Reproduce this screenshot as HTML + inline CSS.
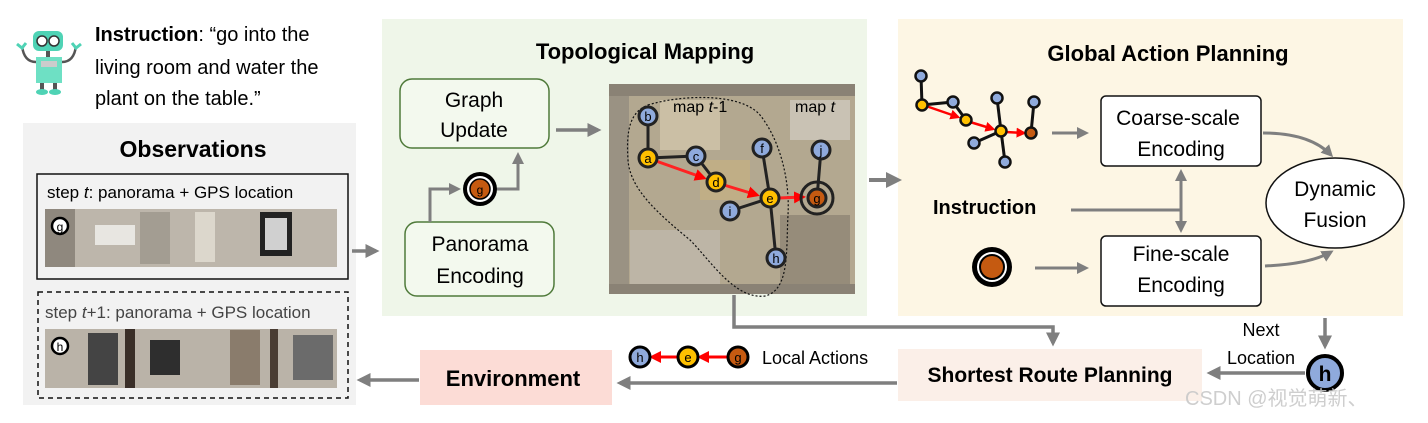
<!DOCTYPE html>
<html><head><meta charset="utf-8"><style>
html,body{margin:0;padding:0;background:#fff}
svg{display:block}
text{font-family:"Liberation Sans","Noto Sans CJK SC",sans-serif}
</style></head><body>
<svg width="1428" height="423" viewBox="0 0 1428 423" xmlns="http://www.w3.org/2000/svg">
<defs>
<marker id="ga" markerWidth="4" markerHeight="4" refX="3" refY="2" orient="auto" markerUnits="strokeWidth"><path d="M0,0 L4,2 L0,4 z" fill="#7f7f7f"/></marker>
<marker id="ra" markerWidth="4" markerHeight="4" refX="3" refY="2" orient="auto" markerUnits="strokeWidth"><path d="M0,0 L4,2 L0,4 z" fill="#f00"/></marker>
</defs>
<!-- panels -->
<rect x="23" y="123" width="333" height="282" fill="#f2f2f2"/>
<rect x="382" y="19" width="485" height="297" fill="#eff6e9"/>
<rect x="898" y="19" width="505" height="297" fill="#fdf6e4"/>
<rect x="898" y="349" width="304" height="52" fill="#fbefe8"/>
<rect x="420" y="350" width="192" height="55" fill="#fcdcd6"/>

<!-- robot -->
<g>
<rect x="33" y="31" width="30" height="20" rx="6" fill="#4fd3b5"/>
<circle cx="42" cy="41" r="5" fill="#fff" stroke="#333" stroke-width="1.5"/><circle cx="54" cy="41" r="5" fill="#fff" stroke="#333" stroke-width="1.5"/>
<rect x="46" y="51" width="4" height="6" fill="#555"/>
<rect x="36" y="57" width="26" height="26" fill="#6ee0c4"/>
<rect x="41" y="61" width="16" height="6" fill="#ccc"/>
<path d="M36,62 Q24,62 22,46 M62,62 Q74,62 76,46" stroke="#555" stroke-width="2.5" fill="none"/>
<path d="M17,44 L22,48 L26,43 M72,43 L76,48 L81,44" stroke="#4fd3b5" stroke-width="3" fill="none"/>
<rect x="40" y="83" width="4" height="7" fill="#555"/><rect x="53" y="83" width="4" height="7" fill="#555"/>
<ellipse cx="42" cy="92" rx="6" ry="3" fill="#4fd3b5"/><ellipse cx="55" cy="92" rx="6" ry="3" fill="#4fd3b5"/>
</g>
<text x="95" y="41" font-size="20"><tspan font-weight="bold">Instruction</tspan>: “go into the</text>
<text x="95" y="74" font-size="20">living room and water the</text>
<text x="95" y="105" font-size="20">plant on the table.”</text>

<!-- observations -->
<text x="193" y="157" font-size="23" font-weight="bold" text-anchor="middle">Observations</text>
<rect x="37" y="174" width="311" height="105" fill="none" stroke="#111" stroke-width="1.5"/>
<text x="47" y="198" font-size="17">step <tspan font-style="italic">t</tspan>: panorama + GPS location</text>
<rect x="45" y="209" width="292" height="58" fill="#bdb6ab"/>
<rect x="45" y="209" width="30" height="58" fill="#8f887e"/><rect x="95" y="225" width="40" height="20" fill="#e8e6e1"/><rect x="140" y="212" width="30" height="52" fill="#a39d92"/><rect x="260" y="212" width="32" height="44" fill="#222"/><rect x="265" y="218" width="22" height="32" fill="#d0d0d0"/><rect x="195" y="212" width="20" height="50" fill="#dcd7cc"/>
<rect x="38" y="292" width="310" height="106" fill="none" stroke="#111" stroke-width="1.5" stroke-dasharray="5,4"/>
<text x="45" y="318" font-size="17" fill="#444">step <tspan font-style="italic">t</tspan>+1: panorama + GPS location</text>
<rect x="45" y="329" width="292" height="59" fill="#bab3a8"/>
<rect x="88" y="333" width="30" height="52" fill="#444"/><rect x="125" y="329" width="10" height="59" fill="#3a2f28"/><rect x="150" y="340" width="30" height="35" fill="#2e2e2e"/><rect x="230" y="330" width="30" height="55" fill="#8a7c6c"/><rect x="270" y="329" width="8" height="59" fill="#4a3d33"/><rect x="293" y="335" width="40" height="45" fill="#6b6b6b"/>
<circle cx="60" cy="226" r="8" fill="#fff" stroke="#000" stroke-width="2.5"/><text x="60" y="231" font-size="12" text-anchor="middle">g</text>
<circle cx="60" cy="346" r="8" fill="#fff" stroke="#000" stroke-width="2.5"/><text x="60" y="351" font-size="12" text-anchor="middle">h</text>

<!-- topological mapping -->
<text x="645" y="59" font-size="22" font-weight="bold" text-anchor="middle">Topological Mapping</text>
<rect x="400" y="79" width="149" height="69" rx="12" fill="#f3f9ee" stroke="#4f7a3a" stroke-width="1.5"/>
<text x="474" y="107" font-size="21" text-anchor="middle">Graph</text>
<text x="474" y="137" font-size="21" text-anchor="middle">Update</text>
<rect x="405" y="222" width="149" height="74" rx="12" fill="#f3f9ee" stroke="#4f7a3a" stroke-width="1.5"/>
<text x="480" y="251" font-size="21" text-anchor="middle">Panorama</text>
<text x="480" y="283" font-size="21" text-anchor="middle">Encoding</text>
<path d="M430,222 V189 H458" stroke="#7f7f7f" stroke-width="3" fill="none" marker-end="url(#ga)"/>
<path d="M497,189 H518 V155" stroke="#7f7f7f" stroke-width="3" fill="none" marker-end="url(#ga)"/>
<circle cx="480" cy="189" r="17" fill="#000"/><circle cx="480" cy="189" r="13" fill="#fff"/><circle cx="480" cy="189" r="10" fill="#c55a11" stroke="#000" stroke-width="1.5"/><text x="480" y="194" font-size="12" text-anchor="middle">g</text>
<line x1="556" y1="130" x2="598" y2="130" stroke="#7f7f7f" stroke-width="3.5" marker-end="url(#ga)"/>
<line x1="352" y1="251" x2="376" y2="251" stroke="#7f7f7f" stroke-width="3.5" marker-end="url(#ga)"/>

<!-- map -->
<rect x="609" y="84" width="246" height="210" fill="#b3a890"/>
<rect x="609" y="84" width="246" height="12" fill="#8a8275"/>
<rect x="609" y="96" width="20" height="198" fill="#9a9283"/>
<rect x="630" y="230" width="90" height="60" fill="#bdb5a6"/>
<rect x="790" y="100" width="60" height="40" fill="#c9c2b4"/>
<rect x="780" y="215" width="70" height="75" fill="#968c7a"/>
<rect x="660" y="100" width="60" height="50" fill="#cbbfa5"/>
<rect x="700" y="160" width="50" height="40" fill="#c0ae86"/>
<rect x="609" y="284" width="246" height="10" fill="#8a8275"/>
<path d="M648,105 C680,95 740,92 760,115 C780,140 790,180 788,215 C786,250 790,290 765,296 C735,300 710,260 690,240 C660,215 630,190 628,160 C626,130 630,112 648,105 Z" fill="none" stroke="#111" stroke-width="1.2" stroke-dasharray="2,2"/>
<text x="673" y="112" font-size="16">map <tspan font-style="italic">t</tspan>-1</text>
<text x="795" y="112" font-size="16">map <tspan font-style="italic">t</tspan></text>
<g stroke="#222" stroke-width="3">
<line x1="648" y1="116" x2="648" y2="158"/><line x1="648" y1="158" x2="696" y2="156"/><line x1="696" y1="156" x2="716" y2="182"/>
<line x1="770" y1="198" x2="762" y2="148"/><line x1="770" y1="198" x2="730" y2="211"/><line x1="770" y1="198" x2="776" y2="258"/>
<line x1="821" y1="150" x2="817" y2="198"/>
</g>
<g stroke="#f22" stroke-width="3" fill="none">
<line x1="656" y1="161" x2="704" y2="178" marker-end="url(#ra)"/>
<line x1="724" y1="185" x2="757" y2="195" marker-end="url(#ra)"/>
<line x1="779" y1="198" x2="803" y2="197" marker-end="url(#ra)"/>
</g>
<g stroke="#222" stroke-width="3" font-size="12">
<circle cx="648" cy="116" r="9" fill="#8faadc"/><circle cx="696" cy="156" r="9" fill="#8faadc"/><circle cx="762" cy="148" r="9" fill="#8faadc"/><circle cx="730" cy="211" r="9" fill="#8faadc"/><circle cx="776" cy="258" r="9" fill="#8faadc"/><circle cx="821" cy="150" r="9" fill="#8faadc"/>
<circle cx="648" cy="158" r="9" fill="#ffc000"/><circle cx="716" cy="182" r="9" fill="#ffc000"/><circle cx="770" cy="198" r="9" fill="#ffc000"/>
<circle cx="817" cy="198" r="16" fill="none"/><circle cx="817" cy="198" r="9" fill="#c55a11"/>
</g>
<g font-size="13" text-anchor="middle">
<text x="648" y="121">b</text><text x="648" y="163">a</text><text x="696" y="161">c</text><text x="716" y="187">d</text><text x="770" y="203">e</text><text x="762" y="153">f</text><text x="730" y="216">i</text><text x="776" y="263">h</text><text x="821" y="155">j</text><text x="817" y="203">g</text>
</g>
<line x1="869" y1="180" x2="898" y2="180" stroke="#7f7f7f" stroke-width="4" marker-end="url(#ga)"/>

<!-- global action planning -->
<text x="1168" y="61" font-size="22" font-weight="bold" text-anchor="middle">Global Action Planning</text>
<g stroke="#111" stroke-width="3">
<line x1="921" y1="76" x2="922" y2="105"/><line x1="922" y1="105" x2="953" y2="102"/><line x1="953" y1="102" x2="966" y2="120"/>
<line x1="1001" y1="131" x2="997" y2="98"/><line x1="1001" y1="131" x2="974" y2="143"/><line x1="1001" y1="131" x2="1005" y2="162"/><line x1="1031" y1="133" x2="1034" y2="102"/>
</g>
<g stroke="#f00" stroke-width="2.5">
<line x1="926" y1="106" x2="958" y2="117" marker-end="url(#ra)"/><line x1="970" y1="122" x2="993" y2="129" marker-end="url(#ra)"/><line x1="1006" y1="132" x2="1024" y2="133" marker-end="url(#ra)"/>
</g>
<g stroke="#111" stroke-width="2.5">
<circle cx="921" cy="76" r="5.5" fill="#8faadc"/><circle cx="953" cy="102" r="5.5" fill="#8faadc"/><circle cx="974" cy="143" r="5.5" fill="#8faadc"/><circle cx="997" cy="98" r="5.5" fill="#8faadc"/><circle cx="1034" cy="102" r="5.5" fill="#8faadc"/><circle cx="1005" cy="162" r="5.5" fill="#8faadc"/>
<circle cx="922" cy="105" r="5.5" fill="#ffc000"/><circle cx="966" cy="120" r="5.5" fill="#ffc000"/><circle cx="1001" cy="131" r="5.5" fill="#ffc000"/><circle cx="1031" cy="133" r="5.5" fill="#c55a11"/>
</g>
<line x1="1052" y1="133" x2="1086" y2="133" stroke="#7f7f7f" stroke-width="3" marker-end="url(#ga)"/>
<rect x="1101" y="96" width="160" height="70" rx="5" fill="#fff" stroke="#111" stroke-width="1.5"/>
<text x="1178" y="125" font-size="21" text-anchor="middle">Coarse-scale</text>
<text x="1181" y="156" font-size="21" text-anchor="middle">Encoding</text>
<rect x="1101" y="236" width="160" height="70" rx="5" fill="#fff" stroke="#111" stroke-width="1.5"/>
<text x="1181" y="261" font-size="21" text-anchor="middle">Fine-scale</text>
<text x="1181" y="292" font-size="21" text-anchor="middle">Encoding</text>
<ellipse cx="1335" cy="203" rx="69" ry="45" fill="#fff" stroke="#111" stroke-width="1.5"/>
<text x="1335" y="196" font-size="21" text-anchor="middle">Dynamic</text>
<text x="1335" y="227" font-size="21" text-anchor="middle">Fusion</text>
<text x="933" y="214" font-size="20" font-weight="bold">Instruction</text>
<path d="M1071,210 H1181" stroke="#7f7f7f" stroke-width="3" fill="none"/>
<line x1="1181" y1="210" x2="1181" y2="172" stroke="#7f7f7f" stroke-width="3" marker-end="url(#ga)"/>
<line x1="1181" y1="210" x2="1181" y2="230" stroke="#7f7f7f" stroke-width="3" marker-end="url(#ga)"/>
<circle cx="992" cy="267" r="20" fill="#000"/><circle cx="992" cy="267" r="15" fill="#fff"/><circle cx="992" cy="267" r="12" fill="#c55a11" stroke="#000" stroke-width="2"/>
<line x1="1035" y1="268" x2="1086" y2="268" stroke="#7f7f7f" stroke-width="3" marker-end="url(#ga)"/>
<path d="M1263,133 Q1310,133 1331,155" stroke="#7f7f7f" stroke-width="3" fill="none" marker-end="url(#ga)"/>
<path d="M1265,266 Q1310,264 1331,252" stroke="#7f7f7f" stroke-width="3" fill="none" marker-end="url(#ga)"/>

<!-- bottom -->
<line x1="1325" y1="318" x2="1325" y2="346" stroke="#7f7f7f" stroke-width="3.5" marker-end="url(#ga)"/>
<text x="1261" y="336" font-size="18" text-anchor="middle">Next</text>
<text x="1261" y="364" font-size="18" text-anchor="middle">Location</text>
<line x1="1305" y1="373" x2="1210" y2="373" stroke="#7f7f7f" stroke-width="3.5" marker-end="url(#ga)"/>
<circle cx="1325" cy="373" r="17" fill="#8faadc" stroke="#000" stroke-width="4"/>
<text x="1325" y="381" font-size="21" font-weight="bold" text-anchor="middle">h</text>
<text x="1050" y="382" font-size="21" font-weight="bold" text-anchor="middle">Shortest Route Planning</text>
<path d="M734,295 V327 H1053 V343" stroke="#7f7f7f" stroke-width="3.5" fill="none" marker-end="url(#ga)"/>
<line x1="897" y1="383" x2="620" y2="383" stroke="#7f7f7f" stroke-width="3.5" marker-end="url(#ga)"/>
<text x="513" y="386" font-size="22" font-weight="bold" text-anchor="middle">Environment</text>
<line x1="419" y1="380" x2="360" y2="380" stroke="#7f7f7f" stroke-width="3.5" marker-end="url(#ga)"/>
<g stroke="#f00" stroke-width="3"><line x1="730" y1="357" x2="700" y2="357" marker-end="url(#ra)"/><line x1="679" y1="357" x2="652" y2="357" marker-end="url(#ra)"/></g>
<g stroke="#000" stroke-width="3"><circle cx="640" cy="357" r="10" fill="#8faadc"/><circle cx="688" cy="357" r="10" fill="#ffc000"/><circle cx="738" cy="357" r="10" fill="#c55a11"/></g>
<g font-size="13" text-anchor="middle"><text x="640" y="362">h</text><text x="688" y="362">e</text><text x="738" y="362">g</text></g>
<text x="762" y="364" font-size="18">Local Actions</text>
<text x="1185" y="405" font-size="20" fill="#c9c9c9" opacity="0.9">CSDN @视觉萌新、</text>
</svg>
</body></html>
